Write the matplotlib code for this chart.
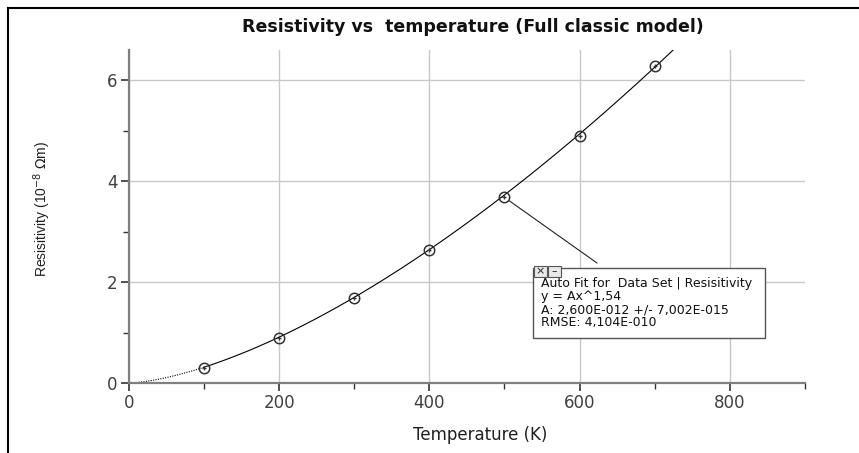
import numpy as np
import matplotlib
matplotlib.use("Agg")
import matplotlib.pyplot as plt
from matplotlib.lines import Line2D
from matplotlib.patches import Rectangle

# measured data
temperature = [100, 200, 300, 400, 500, 600, 700]
resistivity = [0.30, 0.90, 1.68, 2.64, 3.68, 4.90, 6.28]

# fit parameters (from the Auto Fit box): rho = A * T^n
fit_A = 2.600e-12
fit_n = 1.54

fit_lines = ["Auto Fit for  Data Set | Resisitivity",
             "y = Ax^1,54",
             "A: 2,600E-012 +/- 7,002E-015",
             "RMSE: 4,104E-010"]

plt.rcParams['font.family'] = ['DejaVu Sans']

fig = plt.figure(figsize=(8.59, 4.53), dpi=100)
ax = fig.add_axes([0.150, 0.1545, 0.787, 0.735])

axis_gray = '#808080'
grid_gray = '#c8c8c8'

# fit curve (in 1e-8 Ohm m)
t_dot = np.linspace(0, temperature[0], 60)
t_solid = np.linspace(temperature[0], 760, 300)
ax.plot(t_dot, fit_A * t_dot ** fit_n * 1e8, color='black', lw=0.8, ls=(0, (1, 1.2)))
ax.plot(t_solid, fit_A * t_solid ** fit_n * 1e8, color='black', lw=0.8)

# data points: circle with a small cross
ax.plot(temperature, resistivity, ls='none', marker='o', ms=7.5, mfc='none',
        mec='#333333', mew=1.1, zorder=4)
ax.plot(temperature, resistivity, ls='none', marker='+', ms=3.5,
        mec='#333333', mew=0.9, zorder=4)

ax.set_xlim(0, 900)
ax.set_ylim(0, 6.6)
ax.set_xticks([0, 200, 400, 600, 800])
ax.set_xticks([100, 300, 500, 700, 900], minor=True)
ax.set_yticks([0, 2, 4, 6])
ax.set_yticks([1, 3, 5], minor=True)
ax.grid(True, which='major', color=grid_gray, lw=1.0)
ax.set_axisbelow(True)

for side in ['top', 'right']:
    ax.spines[side].set_visible(False)
for side in ['left', 'bottom']:
    ax.spines[side].set_color(axis_gray)
    ax.spines[side].set_linewidth(1.6)

ax.tick_params(which='major', length=6, width=1.2, color='#333333',
               labelsize=12, labelcolor='#404040', pad=2)
ax.tick_params(which='minor', length=4, width=1.0, color='#333333')

ax.set_xlabel('Temperature (K)', fontsize=12, color='#202020')
ax.xaxis.set_label_coords(0.519, -0.128)
ax.set_ylabel(r'Resisitivity (10$^{-8}$ $\Omega$m)', fontsize=10,
              color='#202020',
              family=['Liberation Sans Narrow', 'Liberation Sans', 'DejaVu Sans'])
ax.yaxis.set_label_coords(-0.112, 0.522)

fig.text(0.551, 0.94, 'Resistivity vs  temperature (Full classic model)',
         ha='center', va='center', fontsize=12.5, fontweight='bold', color='#111111')

# annotation box with connector line to the 500 K point
ax.annotate('', xy=(temperature[4], resistivity[4]), xycoords='data',
            xytext=(597 / 859, 1 - 263 / 453), textcoords='figure fraction',
            arrowprops=dict(arrowstyle='-', color='#222222', lw=0.8,
                            shrinkA=0, shrinkB=4))

bx0, by0 = 533 / 859, 1 - 338 / 453
bw, bh = (765 - 533) / 859, (338 - 268) / 453
fig.patches.append(Rectangle((bx0, by0), bw, bh, transform=fig.transFigure,
                             facecolor='white', edgecolor='#555555', lw=1.0, zorder=5))
# small close / minimise buttons
btn_w, btn_h = 13 / 859, 11 / 453
for i, sym in enumerate(['×', '–']):
    x0 = 534 / 859 + i * (btn_w + 1 / 859)
    y0 = 1 - 277 / 453
    fig.patches.append(Rectangle((x0, y0), btn_w, btn_h, transform=fig.transFigure,
                                 facecolor='#e8e8e8', edgecolor='#555555', lw=0.8, zorder=6))
    fig.text(x0 + btn_w / 2, y0 + btn_h / 2, sym, ha='center', va='center',
             fontsize=8, color='#222222', zorder=7)

for i, line in enumerate(fit_lines):
    fig.text(541 / 859, 1 - (283 + i * 13.3) / 453, line, ha='left', va='center',
             fontsize=9, color='#111111', zorder=7)

# outer frame lines (top and left)
fig.add_artist(Line2D([8 / 859, 1], [1 - 8 / 453, 1 - 8 / 453], color='black', lw=1.5))
fig.add_artist(Line2D([8 / 859, 8 / 859], [0, 1 - 8 / 453], color='black', lw=1.5))

fig.savefig('out.png', dpi=100)
